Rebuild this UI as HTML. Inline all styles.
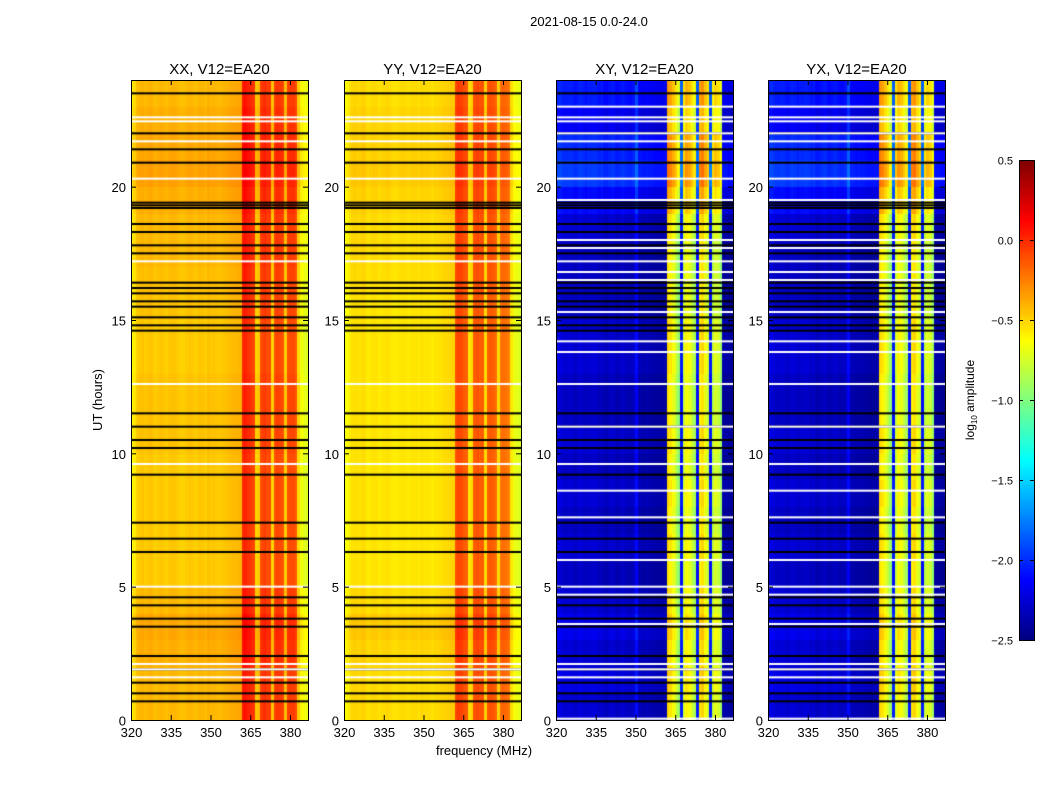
<!DOCTYPE html>
<html><head><meta charset="utf-8"><style>
body{margin:0;background:#fff;width:1050px;height:800px;position:relative;overflow:hidden;font-family:"Liberation Sans",sans-serif}
canvas{position:absolute}
svg{position:absolute;left:0;top:0}
</style></head><body>
<canvas id="c0" width="177" height="640" style="left:131px;top:80px"></canvas>
<canvas id="c1" width="177" height="640" style="left:344px;top:80px"></canvas>
<canvas id="c2" width="177" height="640" style="left:556px;top:80px"></canvas>
<canvas id="c3" width="177" height="640" style="left:768px;top:80px"></canvas>
<canvas id="cb" width="15" height="480" style="left:1019px;top:160px"></canvas>
<svg id="ov" width="1050" height="800"></svg>
<script>
// frequency channels 320..386 MHz (1 MHz bins), log10 amplitude
const freqs = Array.from({length:67},(_,i)=>320+i);
const xxProfile = [-0.62,-0.58,-0.5,-0.47,-0.46,-0.48,-0.47,-0.45,-0.47,-0.49,-0.47,-0.46,-0.47,-0.49,-0.47,-0.46,-0.46,-0.47,-0.49,-0.5,-0.49,-0.47,-0.46,-0.47,-0.49,-0.47,-0.46,-0.47,-0.49,-0.45,-0.47,-0.46,-0.47,-0.48,-0.47,-0.46,-0.45,-0.44,-0.43,-0.43,-0.42,-0.41,0.0,0.02,-0.02,-0.05,-0.08,-0.5,-0.48,-0.1,-0.06,-0.1,-0.1,-0.5,-0.12,-0.08,-0.1,-0.12,-0.48,-0.12,-0.1,-0.1,-0.15,-0.52,-0.66,-0.7,-0.72];
const yyProfile = [-0.66,-0.63,-0.57,-0.54,-0.53,-0.55,-0.54,-0.52,-0.55,-0.57,-0.55,-0.54,-0.55,-0.57,-0.55,-0.55,-0.54,-0.55,-0.57,-0.58,-0.57,-0.55,-0.55,-0.55,-0.57,-0.55,-0.55,-0.55,-0.57,-0.54,-0.55,-0.55,-0.55,-0.57,-0.55,-0.55,-0.54,-0.53,-0.52,-0.52,-0.51,-0.5,-0.12,-0.08,-0.1,-0.14,-0.16,-0.55,-0.52,-0.15,-0.12,-0.15,-0.14,-0.52,-0.16,-0.14,-0.16,-0.2,-0.52,-0.22,-0.2,-0.22,-0.26,-0.56,-0.68,-0.7,-0.72];
const xyProfile = [-2.3,-2.25,-2.28,-2.3,-2.3,-2.28,-2.3,-2.33,-2.3,-2.28,-2.3,-2.33,-2.3,-2.3,-2.28,-2.3,-2.33,-2.3,-2.36,-2.36,-2.33,-2.3,-2.33,-2.36,-2.33,-2.3,-2.33,-2.36,-2.36,-2.33,-2.15,-2.38,-2.38,-2.4,-2.38,-2.4,-2.4,-2.42,-2.42,-2.42,-2.42,-2.42,-0.55,-0.6,-0.7,-0.8,-0.95,-2.1,-0.8,-0.65,-0.7,-0.8,-0.9,-2.1,-0.6,-0.55,-0.7,-0.8,-2.1,-0.85,-0.75,-0.8,-0.95,-2.42,-2.42,-2.45,-2.45];
const yxProfile = xyProfile;
// hourly modulation (hour 0..23)
const xxTime = [0.05,0.05,0.08,0.1,0.05,0,0,0,0,0,0.02,0.02,0.02,0.0,0,0.02,0.03,0.05,0.05,0.08,0.12,0.1,0.08,0.05];
const yyTime = [0.03,0.03,0.05,0.08,0.03,0,0,0,0,0,0,0,0,0,0,0,0.02,0.03,0.03,0.05,0.08,0.06,0.05,0.03];
const xyTime = [0.05,0.1,0.05,0.12,0.05,0,0.05,0,0.05,0,0.05,0,0,0.05,0.05,0,0,0,0.05,0.2,0.35,0.3,0.15,0.25];
// flagged rows (hours)
const blackRows = [23.5,22.0,21.4,20.9,19.4,19.3,19.2,18.6,18.3,17.8,17.5,16.4,16.2,16.0,15.7,15.5,15.1,14.8,14.6,11.5,11.0,10.5,10.2,9.2,7.4,6.8,6.3,4.6,4.3,3.8,3.5,2.4,1.9,1.4,1.0,0.7];
const whiteRows = [22.6,22.45,21.7,20.3,17.2,12.6,9.6,5.0,2.1,1.9,1.6];
const xyWhiteRows = [23.0,22.6,22.45,22.0,21.7,20.3,19.5,18.0,17.7,17.2,16.8,16.5,15.3,14.2,13.8,12.6,11.0,9.6,8.6,7.6,6.0,5.0,4.7,3.6,2.1,1.9,1.6,0.05];
const tickF = [320,335,350,365,380];
const tickH = [0,5,10,15,20];
const cbTicks = [0.5,0.0,-0.5,-1.0,-1.5,-2.0,-2.5];
const panels = [
 {id:'c0',x:131,title:'XX, V12=EA20',prof:xxProfile,time:xxTime,white:whiteRows},
 {id:'c1',x:344,title:'YY, V12=EA20',prof:yyProfile,time:yyTime,white:whiteRows},
 {id:'c2',x:556,title:'XY, V12=EA20',prof:xyProfile,time:xyTime,white:xyWhiteRows},
 {id:'c3',x:768,title:'YX, V12=EA20',prof:yxProfile,time:xyTime,white:xyWhiteRows}];
const W=177,H=640,F0=320,F1=386.8,T1=24;
const fx=f=>(f-F0)/(F1-F0)*W, ty=h=>H-h/T1*H;
function jet(v){let t=(v+2.5)/3;t=Math.max(0,Math.min(1,t));
 const r=Math.max(0,Math.min(1,1.5-Math.abs(4*t-3))),g=Math.max(0,Math.min(1,1.5-Math.abs(4*t-2))),b=Math.max(0,Math.min(1,1.5-Math.abs(4*t-1)));
 return `rgb(${r*255|0},${g*255|0},${b*255|0})`;}
panels.forEach(p=>{const ctx=document.getElementById(p.id).getContext('2d');
 p.time.forEach((tm,h)=>{p.prof.forEach((v,i)=>{ctx.fillStyle=jet(v+tm);
  const x0=fx(freqs[i]),x1=fx(freqs[i]+1);const y0=ty(h+1),y1=ty(h);
  ctx.fillRect(Math.floor(x0),Math.floor(y0),Math.ceil(x1)-Math.floor(x0),Math.ceil(y1)-Math.floor(y0));});});
 ctx.fillStyle='#000';blackRows.forEach(h=>ctx.fillRect(0,ty(h)-1,W,2));
 ctx.fillStyle='#fff';p.white.forEach(h=>ctx.fillRect(0,ty(h)-1,W,2));
});
const cb=document.getElementById('cb').getContext('2d');
for(let y=0;y<480;y++){cb.fillStyle=jet(0.5-y/480*3);cb.fillRect(0,y,15,1);}
const NS='http://www.w3.org/2000/svg',ov=document.getElementById('ov');
function el(tag,a,txt){const e=document.createElementNS(NS,tag);for(const k in a)e.setAttribute(k,a[k]);if(txt!==undefined)e.textContent=txt;ov.appendChild(e);return e;}
let t=el('text',{x:589,y:26,'font-size':13,'text-anchor':'middle'},'2021-08-15 0.0-24.0');


panels.forEach(p=>{const X=p.x,Y=80;
 const fr=el('rect',{x:X+0.5,y:Y+0.5,width:W,height:H,fill:'none',stroke:'#000'});
 
 
 const tt=el('text',{x:X+W/2,y:74,'font-size':15,'text-anchor':'middle'},p.title);
 
 
 tickF.forEach(f=>{const x=X+fx(f)+0.5;el('line',{x1:x,x2:x,y1:Y+H,y2:Y+H-5,stroke:'#000'});el('line',{x1:x,x2:x,y1:Y,y2:Y+5,stroke:'#000'});
  const l=el('text',{x:x,y:Y+H+17,'font-size':13,'text-anchor':'middle'},String(f));
  
  });
 tickH.forEach(h=>{const y=Y+ty(h)+0.5;el('line',{x1:X,x2:X+5,y1:y,y2:y,stroke:'#000'});el('line',{x1:X+W,x2:X+W-5,y1:y,y2:y,stroke:'#000'});
  const l=el('text',{x:X-5,y:y+5,'font-size':13,'text-anchor':'end'},String(h));
  
  });
});
t=el('text',{x:484,y:755,'font-size':13,'text-anchor':'middle'},'frequency (MHz)');


t=el('text',{x:0,y:0,'font-size':13,'text-anchor':'middle',transform:'translate(102,400) rotate(-90)'},'UT (hours)');


const cf=el('rect',{x:1019.5,y:160.5,width:15,height:480,fill:'none',stroke:'#000'});


cbTicks.forEach(v=>{const y=160+(0.5-v)/3*480+0.5;el('line',{x1:1019,x2:1023,y1:y,y2:y,stroke:'#000'});el('line',{x1:1034,x2:1030,y1:y,y2:y,stroke:'#000'});
 const l=el('text',{x:1013,y:y+4,'font-size':11,'text-anchor':'end'},(v<0?'\u2212':'')+Math.abs(v).toFixed(1));
 
 });
t=el('text',{x:0,y:0,'font-size':12,'text-anchor':'middle',transform:'translate(974,400) rotate(-90)'});
t.innerHTML='log<tspan font-size="8" dy="3">10</tspan><tspan dy="-3"> amplitude</tspan>';


</script>
</body></html>
